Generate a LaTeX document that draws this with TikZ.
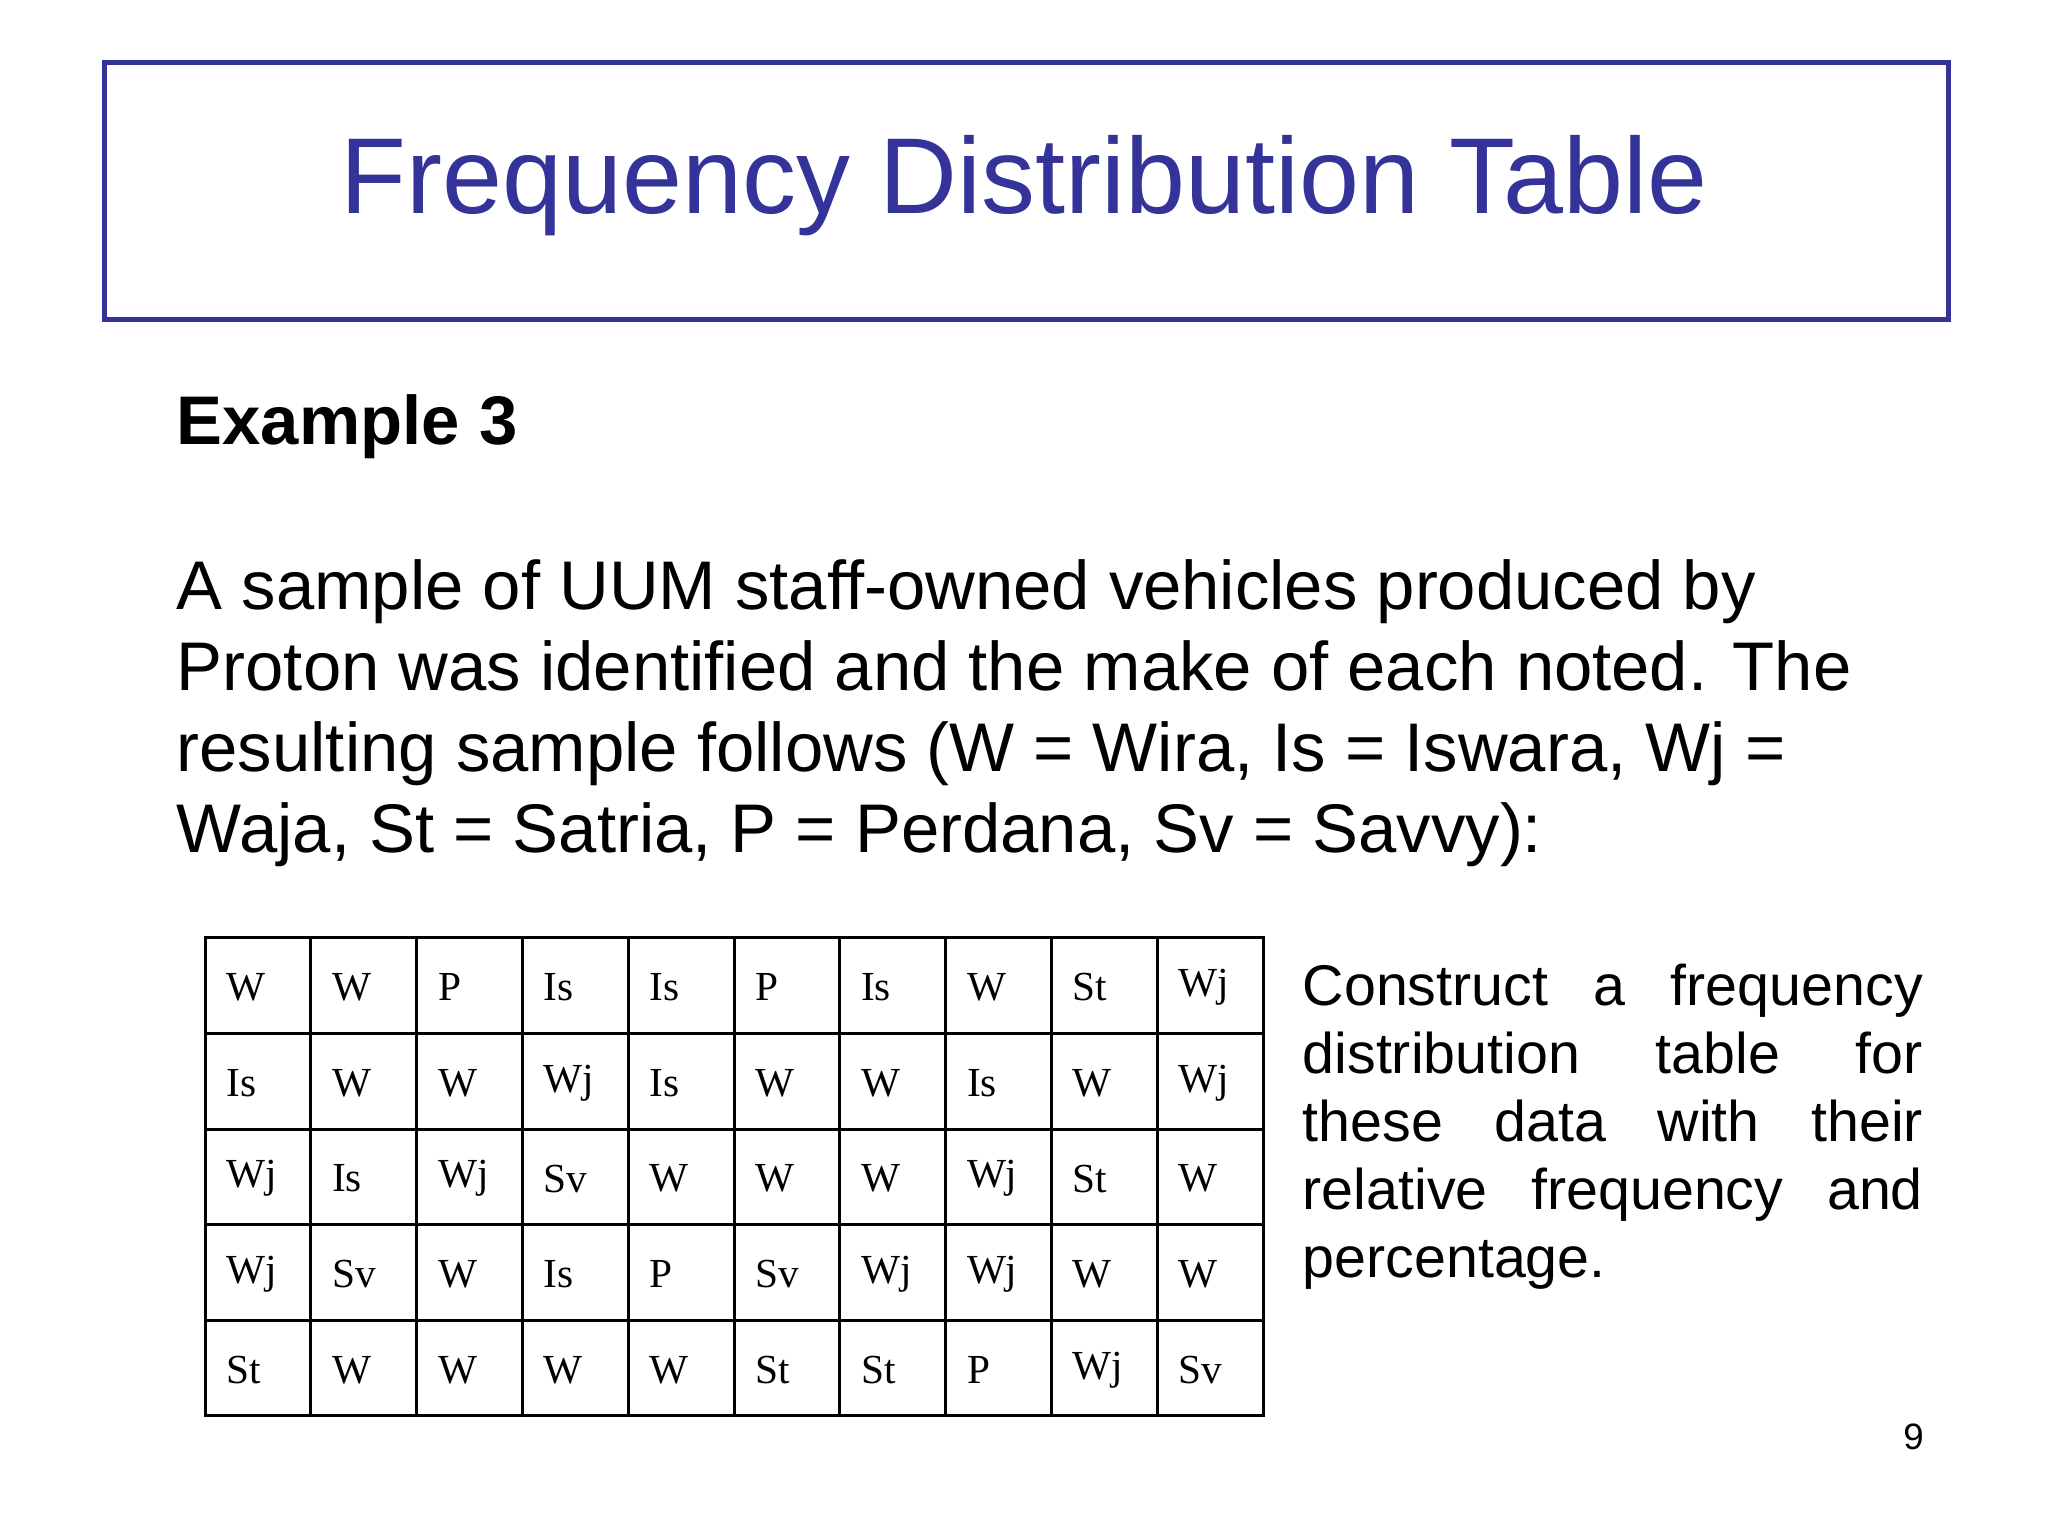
\documentclass[tikz,border=0pt]{standalone}
\usepackage{fontspec}
\setmainfont{Liberation Sans}
\newfontfamily\tabfont{Liberation Serif}
\definecolor{ttl}{RGB}{51,51,153}
\begin{document}
\begin{tikzpicture}[x=0.02cm,y=-0.02cm,
  bodyline/.style={anchor=base west,inner sep=0,font=\fontsize{30}{35}\selectfont},
  conline/.style={anchor=base west,inner sep=0,font=\fontsize{25}{30}\selectfont},
  cell/.style={anchor=west,inner sep=0,font=\tabfont\fontsize{18}{20}\selectfont}]
\useasboundingbox (0,0) rectangle (1568,1176);
\node[draw=ttl,line width=2.2pt,minimum width=1412*0.02cm,minimum height=197*0.02cm,anchor=north west,inner sep=0] (box) at (78,46) {};
\node[text=ttl,font=\fontsize{47}{50}\selectfont] (title) at (784,142) {Frequency Distribution Table};
\node[bodyline,font=\bfseries\fontsize{30}{35}\selectfont] (ex) at (135,340) {Example 3};
\node[bodyline] (p1) at (135,467) {A sample of UUM staff-owned vehicles produced by};
\node[bodyline] (p2) at (135,529) {Proton was identified and the make of each noted. The};
\node[bodyline] (p3) at (135,591) {resulting sample follows (W = Wira, Is = Iswara, Wj =};
\node[bodyline] (p4) at (135,653) {Waja, St = Satria, P = Perdana, Sv = Savvy):};
\node[conline] (c1) at (997,770) {\makebox[9.5cm][s]{Construct a frequency}};
\node[conline] (c2) at (997,822) {\makebox[9.5cm][s]{distribution table for}};
\node[conline] (c3) at (997,874) {\makebox[9.5cm][s]{these data with their}};
\node[conline] (c4) at (997,926) {\makebox[9.5cm][s]{relative frequency and}};
\node[conline] (c5) at (997,978) {percentage.};
\draw[line width=1.3pt] (157,718) rectangle (967,1084);
\foreach \i in {1,...,9} \draw[line width=1.3pt] (157+81*\i,718) -- (157+81*\i,1084);
\foreach \j in {1,...,4} \draw[line width=1.3pt] (157,718+73.2*\j) -- (967,718+73.2*\j);
\foreach \r [count=\j from 0] in {
 {W,W,P,Is,Is,P,Is,W,St,Wj},
 {Is,W,W,Wj,Is,W,W,Is,W,Wj},
 {Wj,Is,Wj,Sv,W,W,W,Wj,St,W},
 {Wj,Sv,W,Is,P,Sv,Wj,Wj,W,W},
 {St,W,W,W,W,St,St,P,Wj,Sv}}{
  \foreach \t [count=\i from 0] in \r
    \node[cell] (t\i-\j) at (157+81*\i+16,718+73.2*\j+38) {\t};
}
\node[anchor=base,inner sep=0,font=\fontsize{16}{18}\selectfont] (pg) at (1465,1110) {9};
\end{tikzpicture}
\end{document}
